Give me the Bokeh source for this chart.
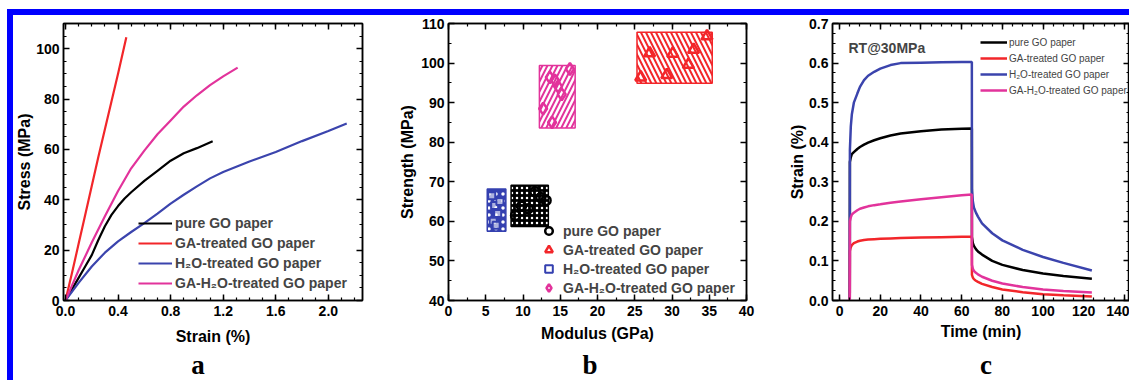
from bokeh.plotting import figure
from bokeh.models import (Range1d, LinearAxis, SingleIntervalTicker, Legend, LegendItem,
                          Label, Div, PrintfTickFormatter)
from bokeh.layouts import row, column
from bokeh.embed import file_html
from bokeh.resources import INLINE

FONT = "Liberation Sans"
SERIF = "Liberation Serif"

# ---------------- data: panel a (stress-strain) ----------------
a_pure_x = [0, 0.05, 0.1, 0.15, 0.2, 0.25, 0.3, 0.35, 0.4, 0.45, 0.5, 0.6, 0.7, 0.8, 0.9, 1.0, 1.12]
a_pure_y = [0, 4.5, 9, 13.5, 18, 24, 29.5, 34, 37.5, 40.5, 43, 47.5, 51.5, 55.5, 58.5, 60.5, 63.2]
a_ga_x = [0, 0.05, 0.1, 0.15, 0.2, 0.25, 0.3, 0.35, 0.4, 0.463]
a_ga_y = [0, 11, 22.5, 34, 45.5, 57, 68, 79, 90, 104.5]
a_h2o_x = [0, 0.1, 0.2, 0.3, 0.4, 0.5, 0.6, 0.7, 0.8, 0.9, 1.0, 1.1, 1.2, 1.4, 1.6, 1.8, 2.0, 2.14]
a_h2o_y = [0, 7, 13.5, 19, 23.5, 27.2, 30.7, 34.5, 38.5, 42, 45.3, 48.5, 51, 55.2, 59, 63.3, 67.3, 70.3]
a_gah2o_x = [0, 0.05, 0.1, 0.2, 0.3, 0.4, 0.5, 0.6, 0.7, 0.8, 0.9, 1.0, 1.1, 1.2, 1.31]
a_gah2o_y = [0, 6, 12, 23, 33.5, 43.5, 52.5, 59.5, 66, 71.5, 77, 81.5, 85.5, 89, 92.5]

# ---------------- data: panel b (strength vs modulus) ----------------
b_pure_x = [9.0, 9.8, 10.7, 11.6, 12.4, 13.1]
b_pure_y = [61.5, 63.8, 63.2, 67.5, 66.0, 65.3]
b_ga_x = [25.8, 27.0, 29.3, 30.1, 32.2, 32.9, 34.7]
b_ga_y = [96.4, 102.5, 97.0, 102.4, 99.6, 103.4, 106.8]
b_h2o_x = [5.8, 6.2, 6.6, 6.0, 6.9, 6.4]
b_h2o_y = [66.5, 64.0, 62.0, 60.0, 65.0, 59.0]
b_gah2o_x = [12.7, 13.6, 13.9, 14.3, 14.7, 15.2, 16.3]
b_gah2o_y = [88.5, 96.4, 85.0, 95.6, 94.1, 92.1, 98.5]
# range boxes (pure, GA, H2O, GA-H2O)
b_box_left = [8.4, 25.3, 5.2, 12.2]
b_box_right = [13.4, 35.4, 7.7, 17.0]
b_box_bottom = [58.7, 94.9, 57.5, 83.6]
b_box_top = [69.1, 107.8, 68.2, 99.4]

# ---------------- data: panel c (creep at RT, 30 MPa) ----------------
c_time = [5.0, 5.05, 5.5, 6, 7, 8.7, 10, 12, 14, 17, 20, 25, 30, 40, 50, 60, 65,
          65.05, 65.5, 66, 67, 68, 70, 75, 80, 90, 100, 110, 124]
c_pure = [0, 0.35, 0.362, 0.37, 0.375, 0.383, 0.388, 0.394, 0.399, 0.405, 0.41, 0.417, 0.422, 0.428, 0.432, 0.434, 0.435,
          0.16, 0.145, 0.138, 0.13, 0.124, 0.116, 0.1, 0.09, 0.077, 0.068, 0.062, 0.055]
c_ga = [0, 0.125, 0.135, 0.14, 0.145, 0.149, 0.151, 0.153, 0.154, 0.155, 0.156, 0.157, 0.158, 0.159, 0.16, 0.161, 0.161,
        0.065, 0.058, 0.054, 0.05, 0.047, 0.042, 0.034, 0.028, 0.021, 0.016, 0.013, 0.01]
c_h2o = [0, 0.38, 0.44, 0.47, 0.50, 0.523, 0.54, 0.557, 0.568, 0.578, 0.586, 0.595, 0.600, 0.601, 0.602, 0.603, 0.603,
         0.28, 0.25, 0.235, 0.222, 0.212, 0.195, 0.17, 0.152, 0.128, 0.11, 0.095, 0.076]
c_gah2o = [0, 0.2, 0.21, 0.217, 0.222, 0.228, 0.232, 0.235, 0.238, 0.241, 0.243, 0.247, 0.25, 0.256, 0.261, 0.266, 0.268,
           0.09, 0.08, 0.075, 0.07, 0.066, 0.06, 0.05, 0.043, 0.034, 0.028, 0.024, 0.02]

labels = ["pure GO paper", "GA-treated GO paper", "H\u2082O-treated GO paper", "GA-H\u2082O-treated GO paper"]
panel_letters = ["a", "b", "c"]

BLACK = "#000000"
RED = "#f2262a"
BLUE = "#3b44ad"
MAG = "#e2339b"


def style_axis(ax, label_size="14px"):
    ax.axis_line_color = "black"
    ax.axis_line_width = 1.5
    ax.major_tick_in = 6
    ax.major_tick_out = 0
    ax.minor_tick_in = 3
    ax.minor_tick_out = 0
    ax.major_tick_line_width = 1.5
    ax.minor_tick_line_width = 1.2
    ax.major_tick_line_color = "black"
    ax.minor_tick_line_color = "black"
    ax.major_label_text_font = FONT
    ax.major_label_text_font_style = "bold"
    ax.major_label_text_font_size = label_size
    ax.major_label_text_color = "black"
    ax.major_label_standoff = 4
    ax.axis_label_text_font = FONT
    ax.axis_label_text_font_style = "bold"
    ax.axis_label_text_font_size = "16px"
    ax.axis_label_text_color = "black"


def make_fig(w, h, xr, yr, bl, br, bt, bb, xt, yt, xlabel, ylabel, xstand, ystand, xfmt=None, yfmt=None):
    p = figure(width=w, height=h, x_range=Range1d(*xr), y_range=Range1d(*yr),
               output_backend="svg", toolbar_location=None,
               min_border_left=bl, min_border_right=br, min_border_top=bt, min_border_bottom=bb)
    p.grid.visible = False
    p.outline_line_color = "black"
    p.outline_line_width = 1.5
    p.background_fill_color = "white"
    p.border_fill_color = "white"
    xb = p.below[0]
    yl = p.left[0]
    xb.ticker = xt
    yl.ticker = yt
    if xfmt:
        xb.formatter = PrintfTickFormatter(format=xfmt)
    if yfmt:
        yl.formatter = PrintfTickFormatter(format=yfmt)
    style_axis(xb)
    style_axis(yl)
    xb.major_label_standoff = 5
    xb.axis_label = xlabel
    yl.axis_label = ylabel
    xb.axis_label_standoff = xstand
    yl.axis_label_standoff = ystand
    for side, tk in (("above", xt), ("right", yt)):
        ax = LinearAxis(ticker=tk, formatter=PrintfTickFormatter(format=""))
        style_axis(ax)
        ax.major_label_text_font_size = "1px"
        ax.major_label_standoff = 0
        p.add_layout(ax, side)
    return p


def make_legend(p, items, loc, font_size, bold, glyph_w, glyph_h, label_h, standoff, spacing):
    lg = Legend(items=items, location=loc, orientation="vertical",
                label_text_font=FONT, label_text_font_size=font_size,
                label_text_font_style="bold" if bold else "normal",
                glyph_width=glyph_w, glyph_height=glyph_h, label_height=label_h,
                label_standoff=standoff, spacing=spacing, padding=0, margin=0,
                border_line_color=None, background_fill_alpha=0)
    p.add_layout(lg)


FIG_H = 342

# ---------------- panel a ----------------
pa = make_fig(381, FIG_H, (-0.015, 2.26), (0, 110), 50, 32, 7, FIG_H - 7 - 278,
              SingleIntervalTicker(interval=0.4, num_minor_ticks=4),
              SingleIntervalTicker(interval=20, num_minor_ticks=4),
              "Strain (%)", "Stress (MPa)", 9, 0, xfmt="%.1f")
ra = []
for xs, ys, c in ((a_pure_x, a_pure_y, BLACK), (a_ga_x, a_ga_y, RED),
                  (a_h2o_x, a_h2o_y, BLUE), (a_gah2o_x, a_gah2o_y, MAG)):
    ra.append(pa.line(xs, ys, line_color=c, line_width=2.2))
make_legend(pa, [LegendItem(label=l, renderers=[r]) for l, r in zip(labels, ra)],
            (75, 8), "14px", True, 34, 18, 18, 3, 2)

# ---------------- panel b ----------------
pb = make_fig(392, FIG_H, (0, 40), (40, 110.001), 54, 40, 8, FIG_H - 8 - 280,
              SingleIntervalTicker(interval=5, num_minor_ticks=2),
              SingleIntervalTicker(interval=10, num_minor_ticks=2),
              "Modulus (GPa)", "Strength (MPa)", 6, 2)
box_style = [
    dict(fill_color="black", hatch_color="white", hatch_pattern="dot", hatch_scale=5, hatch_weight=2,
         line_color="black"),
    dict(fill_color="white", hatch_color=RED, hatch_pattern="left_diagonal_line", hatch_scale=10,
         hatch_weight=2, line_color=RED),
    dict(fill_color="#3440b0", hatch_color="white", hatch_pattern="dot", hatch_scale=7, hatch_weight=2,
         line_color="#3440b0"),
    dict(fill_color="white", hatch_color=MAG, hatch_pattern="right_diagonal_line", hatch_scale=10,
         hatch_weight=2, line_color=MAG),
]
for i in range(4):
    pb.quad(left=[b_box_left[i]], right=[b_box_right[i]], bottom=[b_box_bottom[i]], top=[b_box_top[i]],
            line_width=1.5, **box_style[i])
rb = []
rb.append(pb.scatter(b_pure_x, b_pure_y, marker="circle", size=9, fill_color="white", fill_alpha=0,
                     line_color=BLACK, line_width=2.5))
rb.append(pb.scatter(b_ga_x, b_ga_y, marker="triangle", size=11, fill_color="white", fill_alpha=0,
                     line_color=RED, line_width=2.5))
rb.append(pb.scatter(b_h2o_x, b_h2o_y, marker="square", size=7, fill_color="white", fill_alpha=0.6,
                     line_color="#3440b0", line_width=2))
rb.append(pb.scatter(b_gah2o_x, b_gah2o_y, marker="diamond", size=12, fill_color="white", fill_alpha=0,
                     line_color=MAG, line_width=2.5))
make_legend(pb, [LegendItem(label=l, renderers=[r]) for l, r in zip(labels, rb)],
            (88, 3), "14px", True, 25, 19, 19, 2, 0)

# ---------------- panel c ----------------
pc = make_fig(343, FIG_H, (-3.5, 142.5), (0, 0.7001), 46, 0, 8, FIG_H - 8 - 277,
              SingleIntervalTicker(interval=20, num_minor_ticks=4),
              SingleIntervalTicker(interval=0.1, num_minor_ticks=4),
              "Time (min)", "Strain (%)", 4, 0, yfmt="%.1f")
rc = []
for ys, c in ((c_pure, BLACK), (c_ga, RED), (c_h2o, BLUE), (c_gah2o, MAG)):
    rc.append(pc.line(c_time, ys, line_color=c, line_width=2.5))
make_legend(pc, [LegendItem(label=l, renderers=[r]) for l, r in zip(labels, rc)],
            (148, 202), "10px", False, 27, 16, 16, 2, 0)
pc.add_layout(Label(x=16, y=253, x_units="screen", y_units="screen", text="RT@30MPa",
                    text_font=FONT, text_font_style="bold", text_font_size="14px",
                    text_align="left", text_baseline="alphabetic"))

# ---------------- panel letters and blue frame ----------------
letter_centers = [185, 577, 973]
spans = "".join(
    '<span style="position:absolute;left:%dpx;top:0;width:40px;text-align:center;">%s</span>' % (cx - 20, t)
    for cx, t in zip(letter_centers, panel_letters))
letters = Div(text='<div style="position:relative;width:1116px;height:30px;font-family:\'Liberation Serif\';'
                   'font-weight:bold;font-size:27px;line-height:30px;color:#000;">' + spans + '</div>',
              width=1116, height=30, margin=(-7, 0, 0, 0))

BLUE_FRAME = "#0000ff"
spacer_top = Div(text="", width=1129, height=9, margin=0)
spacer_left = Div(text="", width=7, height=371, margin=0)
blue_top = Div(text="", width=1122, height=6, margin=0, styles={"background-color": BLUE_FRAME})
blue_left = Div(text="", width=6, height=365, margin=0, styles={"background-color": BLUE_FRAME})

figs = column(row(pa, pb, pc, spacing=0), letters, spacing=0)
inner = column(blue_top, row(blue_left, figs, spacing=0), spacing=0)
layout = column(spacer_top, row(spacer_left, inner, spacing=0), spacing=0)

open("out.html", "w").write(file_html(layout, INLINE))
